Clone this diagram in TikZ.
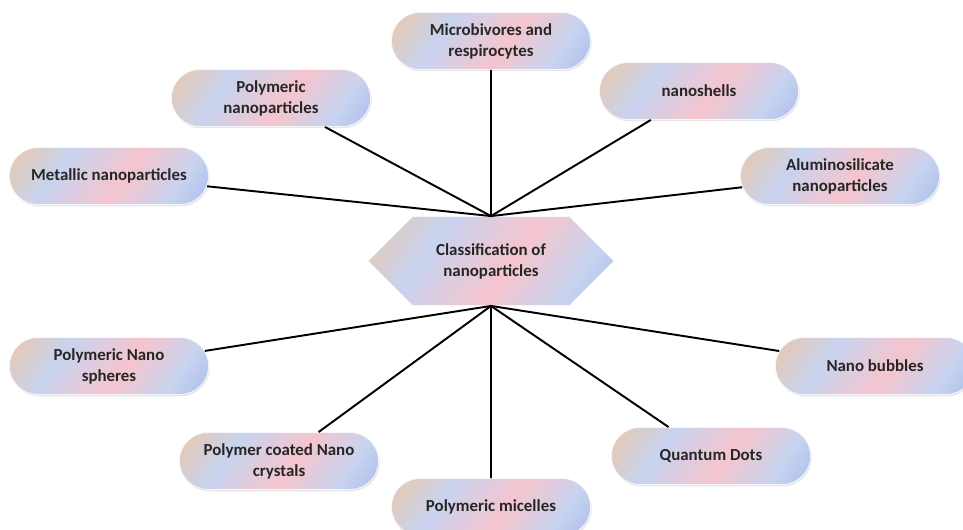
\documentclass[tikz,border=0pt]{standalone}
\usepackage{fontspec}
\setmainfont{Carlito}
\usepackage{xcolor}
\usetikzlibrary{shapes.misc,shapes.symbols,shadows}
\definecolor{pA}{HTML}{EBC7A6}
\definecolor{pB}{HTML}{C8D3EF}
\definecolor{pC}{HTML}{F5C5CD}
\definecolor{pD}{HTML}{86A3EA}
\pgfdeclarehorizontalshading{pill}{100bp}{color(0bp)=(pA); color(14bp)=(pA); color(34bp)=(pB); color(55bp)=(pC); color(72bp)=(pB); color(100bp)=(pD)}

\begin{document}
\begin{tikzpicture}[x=0.02cm,y=-0.02cm,
	pillnode/.style={rounded rectangle,minimum width=4.22cm,minimum height=1.14cm,
		shading=pill,shading angle=-35,draw=white!80!pB,line width=0.5pt,align=center,
		font=\bfseries\fontsize{9.6}{12}\selectfont,text=black!85,
		drop shadow={opacity=0.2,shadow xshift=0.6pt,shadow yshift=-1pt}},
	hubnode/.style={signal,signal to=east and west,signal pointer angle=90,
		minimum width=4.92cm,minimum height=1.78cm,inner sep=0pt,
		shading=pill,shading angle=-35,draw=white!80!pB,line width=0.5pt,align=center,
		font=\bfseries\fontsize{9.6}{12}\selectfont,text=black!85},
	link/.style={line width=1.1pt}]
			\useasboundingbox (0,0) rectangle (963,530);
			\clip (0,0) rectangle (963,530);
			% Nút trung tâm
			\node[hubnode] (hub) at (491,261) {Classification of\\nanoparticles};
			% Các nút phía trên
			\node[pillnode] (micro) at (491,41) {Microbivores and\\respirocytes};
			\node[pillnode] (polynano) at (271,98) {Polymeric\\nanoparticles};
			\node[pillnode] (shells) at (699,91) {nanoshells};
			\node[pillnode] (metal) at (109,176) {Metallic nanoparticles};
			\node[pillnode] (alumino) at (840,176) {Aluminosilicate\\nanoparticles};
			% Các nút phía dưới
			\node[pillnode] (spheres) at (109,366) {Polymeric Nano\\spheres};
			\node[pillnode] (bubbles) at (875,366) {Nano bubbles};
			\node[pillnode] (crystals) at (279,461) {Polymer coated Nano\\crystals};
			\node[pillnode] (qdots) at (711,456) {Quantum Dots};
			\node[pillnode] (micelles) at (491,507) {Polymeric micelles};
			% Các đường nối
			\foreach \n in {micro,polynano,shells,metal,alumino}
			\draw[link] (hub.north) -- (\n);
			\foreach \n in {spheres,bubbles,crystals,qdots,micelles}
			\draw[link] (hub.south) -- (\n);
\end{tikzpicture}
\end{document}
